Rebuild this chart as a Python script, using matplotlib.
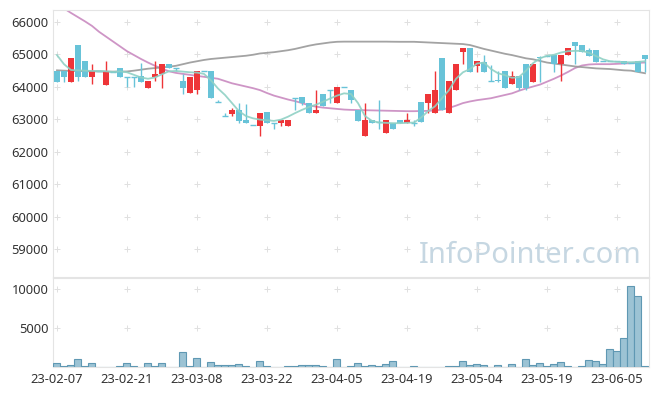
import matplotlib
matplotlib.use("Agg")
import matplotlib.pyplot as plt
import numpy as np
import pandas as pd

plt.rcParams['font.family'] = ['Noto Sans', 'DejaVu Sans']

# trading days (KRX holidays removed)
holidays = ['2023-03-01', '2023-05-01', '2023-05-05', '2023-05-29', '2023-06-06']
dates = [d for d in pd.bdate_range('2023-02-07', '2023-06-12') if d.strftime('%Y-%m-%d') not in holidays]
date_labels = [d.strftime('%y-%m-%d') for d in dates]

# OHLC
opens = [64500, 64500, 64160, 65290, 64810, 64290, 64490, 64070, 64450, 64570,
         64290, 64290, 64320, 63980, 64290, 64390, 64700, 64570, 64180, 63820,
         63890, 64490, 64490, 63520, 63100, 63170, 63290, 62980, 62820, 62800,
         63210, 62880, 62880, 62780, 63670, 63680, 63500, 63190, 63790, 63890,
         63500, 63990, 63910, 63290, 62470, 62980, 62930, 62570, 62880, 62980,
         62880, 62880, 63520, 63500, 63190, 64880, 63190, 63890, 65090, 65190,
         64630, 64780, 64180, 64200, 64490, 64080, 64320, 64700, 64160, 64930,
         64960, 64980, 64710, 64980, 65370, 65290, 65150, 65130, 64800, 64800,
         64800, 64800, 64730, 64800, 64980]
highs = [64500, 64500, 64890, 65290, 64810, 64700, 64490, 64800, 64450, 64570,
         64290, 64290, 64730, 64180, 64800, 64700, 64700, 64570, 64390, 64310,
         64490, 64490, 64490, 63600, 63190, 63360, 63500, 63480, 62820, 63190,
         63210, 62880, 62980, 62980, 63670, 63680, 63500, 63890, 63790, 63890,
         63990, 63990, 63910, 63290, 63500, 62980, 63580, 62980, 62880, 62980,
         63190, 62980, 63520, 63780, 64490, 64880, 64180, 64710, 65190, 65190,
         64800, 64980, 64680, 64500, 64490, 64490, 64320, 64700, 64700, 64960,
         64960, 64980, 64980, 65190, 65370, 65290, 65190, 65130, 64800, 64800,
         64800, 64800, 64730, 64800, 64980]
lows = [64160, 64160, 64160, 64190, 64290, 64080, 64490, 64070, 64450, 64290,
        64000, 63990, 64160, 63980, 64170, 63980, 64570, 64490, 63770, 63820,
        63780, 64490, 63670, 63520, 63100, 63090, 62880, 62880, 62820, 62490,
        62880, 62710, 62800, 62780, 63290, 63450, 63190, 63190, 63400, 63500,
        63500, 63990, 63500, 62960, 62470, 62880, 62700, 62570, 62700, 62880,
        62880, 62800, 62930, 63190, 63190, 63290, 63190, 63890, 64710, 64470,
        64470, 64470, 64180, 64160, 63980, 64080, 63910, 63910, 64160, 64160,
        64960, 64470, 64180, 64980, 64710, 65090, 64960, 64780, 64800, 64800,
        64800, 64700, 64730, 64470, 64470]
closes = [64160, 64290, 64890, 64290, 64290, 64490, 64490, 64490, 64450, 64290,
          64290, 64290, 64160, 64180, 64400, 64700, 64570, 64570, 63980, 64310,
          64490, 64490, 63670, 63520, 63100, 63290, 62960, 62880, 62820, 63190,
          62880, 62880, 62980, 62980, 63670, 63500, 63190, 63290, 63400, 63890,
          63990, 63990, 63580, 62960, 62980, 62880, 62930, 62980, 62700, 62880,
          62980, 62880, 62930, 63780, 63910, 63290, 64180, 64710, 65190, 64470,
          64800, 64470, 64180, 64180, 63980, 64320, 63980, 63980, 64700, 64880,
          64960, 64710, 64980, 65190, 65270, 65090, 64960, 64780, 64800, 64800,
          64800, 64700, 64730, 64470, 64860]

volumes = [510, 130, 260, 1030, 130, 510, 0, 0, 0, 130,
           510, 130, 0, 510, 130, 510, 0, 0, 1920, 130,
           1150, 0, 680, 260, 260, 260, 390, 130, 0, 770,
           130, 0, 0, 130, 130, 260, 260, 260, 130, 0,
           1030, 0, 130, 600, 210, 340, 130, 470, 850, 0,
           90, 210, 90, 90, 90, 0, 210, 210, 850, 340,
           470, 340, 90, 340, 0, 470, 90, 1110, 340, 600,
           210, 470, 730, 210, 90, 210, 980, 850, 470, 2390,
           2050, 3800, 10330, 9050, 210]

# moving average lines as drawn
ma_short = [64980, 64700, 64520, 64510, 64500, 64490, 64490, 64480, 64460, 64480,
            64450, 64370, 64290, 64250, 64290, 64390, 64480, 64490, 64470, 64450,
            64440, 64400, 64200, 63950, 63750, 63500, 63250, 63100, 63030, 62990,
            62970, 62950, 62990, 63080, 63190, 63290, 63380, 63450, 63540, 63640,
            63730, 63800, 63780, 63500, 63100, 62950, 62900, 62890, 62880, 62880,
            62890, 62900, 63050, 63250, 63400, 63650, 63900, 64250, 64450, 64550,
            64720, 64750, 64550, 64420, 64360, 64280, 64300, 64500, 64730, 64880,
            64960, 64990, 65060, 65100, 65110, 65110, 65050, 64950, 64850, 64790,
            64770, 64760, 64760, 64770, 64790]
ma_mid = [64510, 64500, 64490, 64490, 64480, 64480, 64475, 64470, 64470, 64470,
          64475, 64500, 64530, 64560, 64580, 64600, 64620, 64650, 64700, 64750,
          64790, 64830, 64860, 64880, 64900, 64920, 64940, 64960, 64990, 65030,
          65050, 65070, 65100, 65130, 65170, 65220, 65270, 65310, 65340, 65370,
          65390, 65395, 65395, 65395, 65395, 65395, 65395, 65395, 65392, 65390,
          65390, 65390, 65380, 65370, 65360, 65350, 65340, 65330, 65320, 65290,
          65230, 65170, 65120, 65070, 65020, 64980, 64930, 64880, 64850, 64800,
          64750, 64720, 64690, 64660, 64630, 64610, 64590, 64570, 64560, 64550,
          64530, 64510, 64500, 64460, 64420]
ma_long = [66560, 66420, 66280, 66150, 66020, 65880, 65700, 65550, 65400, 65250,
           65100, 64980, 64860, 64750, 64650, 64560, 64480, 64430, 64400, 64370,
           64340, 64310, 64280, 64250, 64180, 64110, 64060, 64010, 63960, 63900,
           63810, 63730, 63670, 63610, 63560, 63500, 63430, 63390, 63360, 63340,
           63320, 63300, 63290, 63285, 63280, 63275, 63270, 63265, 63260, 63255,
           63250, 63250, 63255, 63260, 63270, 63300, 63350, 63420, 63500, 63550,
           63590, 63620, 63650, 63700, 63750, 63800, 63880, 63950, 64010, 64070,
           64160, 64250, 64350, 64460, 64580, 64660, 64690, 64700, 64700, 64700,
           64710, 64720, 64730, 64740, 64750]

price_ticks = [59000, 60000, 61000, 62000, 63000, 64000, 65000, 66000]
vol_ticks = [5000, 10000]

UP = '#ee3538'
DOWN = '#68c3d8'

x = np.arange(len(dates))
o = np.array(opens); h = np.array(highs); l = np.array(lows); c = np.array(closes)

fig = plt.figure(figsize=(6.57, 3.96), dpi=100)
ax = fig.add_axes([0.0811, 0.3005, 0.9067, 0.6742])
axv = fig.add_axes([0.0811, 0.0725, 0.9067, 0.2255], sharex=ax)

for a in (ax, axv):
    for s in a.spines.values():
        s.set_color('#e4e4e4')
    a.tick_params(length=0, labelsize=9.3, colors='#333333')

# moving averages
ax.plot(x, ma_long, color='#c98ac0', lw=1.3, alpha=0.9, zorder=2)
ax.plot(x, ma_mid, color='#999999', lw=1.3, alpha=0.9, zorder=2)

# candles
up = c > o
colors = np.where(up, UP, DOWN)
ax.vlines(x, l, h, colors=colors, lw=1.0, zorder=3)
body = np.abs(c - o)
flat = body == 0
ax.bar(x[~flat], body[~flat], bottom=np.minimum(o, c)[~flat], width=0.72,
       color=colors[~flat], zorder=4)
ax.hlines(c[flat], x[flat] - 0.36, x[flat] + 0.36, colors=DOWN, lw=1.0, zorder=4)

ax.plot(x, ma_short, color='#8fd1c5', lw=1.3, alpha=0.9, zorder=5)

ax.set_ylim(58136, 66370)
ax.set_yticks(price_ticks)
ax.set_xlim(-0.53, 84.57)
ax.tick_params(labelbottom=False)

# grid crosses
tick_idx = list(range(0, len(dates), 10))
gx, gy = np.meshgrid(tick_idx, price_ticks)
ax.scatter(gx.ravel(), gy.ravel(), marker='+', s=16, color='#e0e0e0', lw=0.7, zorder=1)

ax.text(0.613, 0.025, 'InfoPointer.com', transform=ax.transAxes, fontsize=21,
        color='#c6d7e2', ha='left', va='bottom', zorder=0)

# volume
axv.bar(x, volumes, width=1.0, color='#9cc3d4', edgecolor='#5f98b3', lw=0.8, zorder=3)
axv.set_ylim(0, 11405)
axv.set_yticks(vol_ticks)
gx, gy = np.meshgrid(tick_idx, vol_ticks)
axv.scatter(gx.ravel(), gy.ravel(), marker='+', s=16, color='#e0e0e0', lw=0.7, zorder=1)
axv.set_xticks(tick_idx)
axv.set_xticklabels([date_labels[i] for i in tick_idx])
axv.tick_params(axis='x', pad=4)

fig.savefig('out.png', dpi=100, facecolor='white')
